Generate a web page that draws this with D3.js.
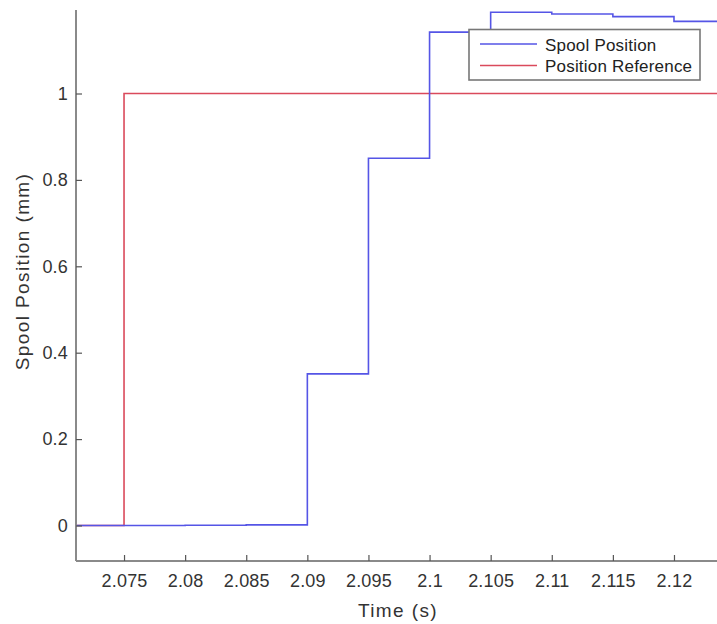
<!DOCTYPE html>
<html><head><meta charset="utf-8">
<script src="https://cdn.jsdelivr.net/npm/d3@7"></script>
<style>body{margin:0;background:#fff}svg{display:block}text{font-family:"Liberation Sans",Arial,sans-serif}</style>
</head><body>
<svg id="c" width="717" height="624"></svg>
<script>
// Data (step series: value holds from t until next t)
const spoolTime = [2.070, 2.075, 2.080, 2.085, 2.090, 2.095, 2.100, 2.105, 2.110, 2.115, 2.120, 2.130];
const spoolVal  = [0.000, 0.000, 0.0007, 0.0015, 0.351, 0.850, 1.142, 1.188, 1.184, 1.178, 1.167, 1.167];
const refTime = [2.070, 2.075, 2.130];
const refVal  = [0, 1, 1];
const xTicks = [2.075, 2.08, 2.085, 2.09, 2.095, 2.1, 2.105, 2.11, 2.115, 2.12];
const yTicks = [0, 0.2, 0.4, 0.6, 0.8, 1];
const seriesNames = ["Spool Position", "Position Reference"];
const colors = ["#5555e6", "#da4a5c"];

const svg = d3.select("#c");
const mLeft = 76, mRight = 717, mTop = 10, mBottom = 561;
const x = d3.scaleLinear().domain([2.07107, 2.12352]).range([mLeft, mRight]);
const y = d3.scaleLinear().domain([-0.0822, 1.1933]).range([mBottom, mTop]);

svg.append("defs").append("clipPath").attr("id","clip")
  .append("rect").attr("x", mLeft).attr("y", mTop).attr("width", mRight-mLeft).attr("height", mBottom-mTop);

const line = d3.line().x(d=>x(d[0])).y(d=>y(d[1])).curve(d3.curveStepAfter);
const g = svg.append("g").attr("clip-path","url(#clip)");
g.append("path").datum(refTime.map((t,i)=>[t,refVal[i]]))
  .attr("d", line).attr("fill","none").attr("stroke", colors[1]).attr("stroke-width",1.6);
g.append("path").datum(spoolTime.map((t,i)=>[t,spoolVal[i]]))
  .attr("d", line).attr("fill","none").attr("stroke", colors[0]).attr("stroke-width",1.6);

// axes
const axColor = "#8a8a8a";
const xa = svg.append("g").attr("transform",`translate(0,${mBottom})`)
  .call(d3.axisBottom(x).tickValues(xTicks).tickSize(-6).tickFormat(d=>String(+d.toFixed(3))));
const ya = svg.append("g").attr("transform",`translate(${mLeft},0)`)
  .call(d3.axisLeft(y).tickValues(yTicks).tickSize(-6).tickFormat(d=>String(+d.toFixed(1))));
[xa, ya].forEach(a=>{
  a.select(".domain").attr("stroke", axColor).attr("stroke-width", 2);
  a.selectAll(".tick line").attr("stroke", "#555").attr("stroke-width", 1.2);
  a.selectAll(".tick text").attr("fill", "#333").style("font-size","18px").style("letter-spacing","0.2px");
});
xa.select(".domain").attr("d", `M${mLeft},0H${mRight}`);
ya.select(".domain").attr("d", `M0,${mTop}V${mBottom}`);
xa.selectAll(".tick text").attr("y", 13);
ya.selectAll(".tick text").attr("x", -8);

svg.append("text").attr("x", 398).attr("y", 617).attr("text-anchor","middle")
  .attr("fill","#333").style("font-size","19px").style("letter-spacing","1.4px").text("Time (s)");
svg.append("text").attr("transform","translate(29,271.5) rotate(-90)").attr("text-anchor","middle")
  .attr("fill","#333").style("font-size","19px").style("letter-spacing","1.4px").text("Spool Position (mm)");

// legend
const lg = svg.append("g");
lg.append("rect").attr("x",469).attr("y",29.5).attr("width",231).attr("height",50.5)
  .attr("fill","#fff").attr("stroke","#777").attr("stroke-width",1.6);
seriesNames.forEach((n,i)=>{
  const yy = 44 + i*21.5;
  lg.append("line").attr("x1",480).attr("x2",537).attr("y1",yy).attr("y2",yy)
    .attr("stroke",colors[i]).attr("stroke-width",1.6);
  lg.append("text").attr("x",545).attr("y",yy+6.5).attr("fill","#222")
    .style("font-size","17px").style("letter-spacing","0.2px").text(n);
});
</script>
</body></html>
